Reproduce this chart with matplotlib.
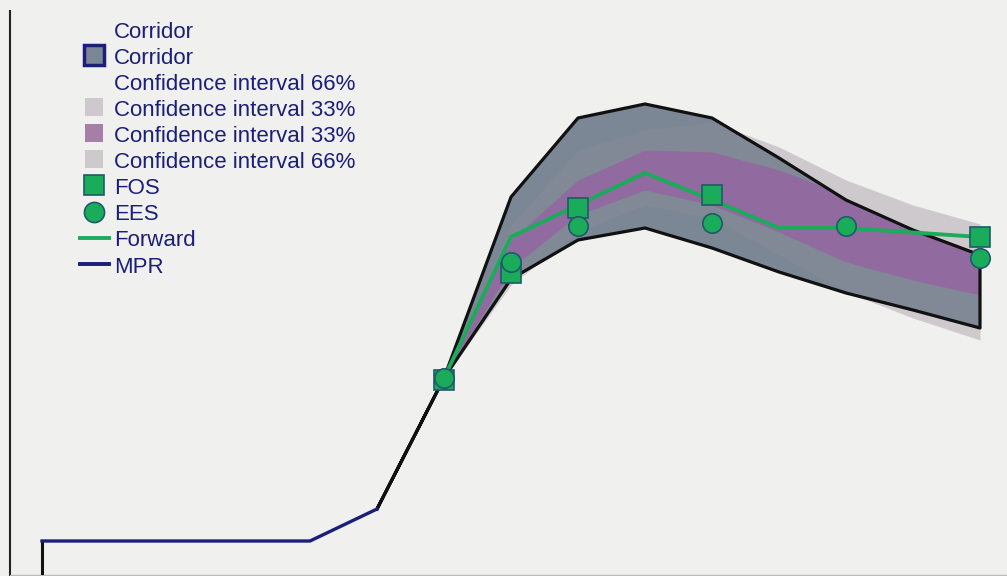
import numpy as np
import matplotlib
matplotlib.use('Agg')
import matplotlib.pyplot as plt
from matplotlib.patches import Polygon
from matplotlib.lines import Line2D

plt.rcParams['font.family'] = ['Liberation Sans', 'DejaVu Sans']

# ---- data (x = step index, y = height) ----
mpr_x = [0, 0, 4, 5]
mpr_y = [0, 34, 34, 66]

corr_x = [5, 6, 7, 8, 9, 10, 11, 12, 13, 14]
corr_upper = [66, 197, 378, 457, 471, 457, 417, 375, 345, 320]
corr_lower = [66, 197, 296, 335, 347, 327, 303, 282, 265, 247]

ci_x = [6, 7, 8, 9, 10, 11, 12, 13, 14]
ci66_upper = [197, 350, 425, 445, 453, 428, 395, 370, 351]
ci66_lower = [197, 290, 343, 370, 357, 320, 283, 257, 235]
ci33_upper = [197, 335, 395, 425, 423, 405, 380, 350, 322]
ci33_lower = [197, 307, 360, 385, 370, 343, 313, 295, 280]

fwd_x = [6, 7, 8, 9, 10, 11, 12, 14]
fwd_y = [197, 338, 370, 402, 375, 347, 347, 338]

fos_x = [6, 7, 8, 10, 14]
fos_y = [195, 302, 367, 380, 338]

ees_x = [6, 7, 8, 10, 12, 14]
ees_y = [197, 313, 349, 352, 349, 317]

labels = ['Corridor', 'Corridor', 'Confidence interval 66%', 'Confidence interval 33%',
          'Confidence interval 33%', 'Confidence interval 66%', 'FOS', 'EES', 'Forward', 'MPR']

# ---- colours ----
bg = '#f0f0ef'
navy = '#1b1f78'
slate = '#7b8794'
purple = '#a052a8'
lightgray = '#cdc9cd'
green = '#1aac5a'
green_edge = '#1f5a6a'

fig = plt.figure(figsize=(10.07, 5.76), dpi=100)
fig.patch.set_facecolor(bg)
ax = fig.add_axes([10 / 1007, 1 / 576, 997 / 1007, 564 / 576])
ax.set_facecolor(bg)

poly_x = corr_x + corr_x[::-1]
poly_y = corr_upper + corr_lower[::-1]
clip = Polygon(np.column_stack([poly_x, poly_y]), closed=True, transform=ax.transData)

# bands
ax.fill_between(ci_x, ci66_lower, ci66_upper, color=lightgray, lw=0, zorder=1)
ax.fill_between(corr_x, corr_lower, corr_upper, color=slate, lw=0, zorder=2)
inner66 = ax.fill_between(ci_x, ci66_lower, ci66_upper, color='#8e8a9c', alpha=0.35, lw=0, zorder=3)
inner33 = ax.fill_between(ci_x, ci33_lower, ci33_upper, color=purple, alpha=0.55, lw=0, zorder=4)
inner66.set_clip_path(clip)
inner33.set_clip_path(clip)

# corridor outline
ax.plot(poly_x + [poly_x[0]], poly_y + [poly_y[0]], color='#111111', lw=2.3, zorder=5,
        solid_joinstyle='round')

# MPR
ax.plot(mpr_x[:2], mpr_y[:2], color='#111111', lw=2.2, zorder=5)
ax.plot(mpr_x[1:], mpr_y[1:], color=navy, lw=2.4, zorder=5)

# forward + points
ax.plot(fwd_x, fwd_y, color=green, lw=2.8, zorder=6)
ax.plot(fos_x, fos_y, ls='none', marker='s', ms=14, mfc=green, mec=green_edge, mew=1.2, zorder=7)
ax.plot(ees_x, ees_y, ls='none', marker='o', ms=14, mfc=green, mec=green_edge, mew=1.2, zorder=8)

ax.set_xlim(-32 / 67, 965 / 67)
ax.set_ylim(0, 564)
ax.set_xticks([])
ax.set_yticks([])
for s in ['top', 'right']:
    ax.spines[s].set_visible(False)
ax.spines['left'].set_color('#222222')
ax.spines['left'].set_linewidth(1.5)
ax.spines['bottom'].set_color('#bbbbbb')
ax.spines['bottom'].set_linewidth(1.0)

# legend
def sq(fc, ec='none', ms=13.5, mew=0):
    return Line2D([], [], ls='none', marker='s', ms=ms, mfc=fc, mec=ec, mew=mew)

blank = Line2D([], [], ls='none')
handles = [
    blank,
    sq(slate, navy, 14, 2.5),
    blank,
    sq(lightgray),
    sq('#a67fa8'),
    sq(lightgray),
    sq(green, green_edge, 14.5, 1.2),
    Line2D([], [], ls='none', marker='o', ms=14.5, mfc=green, mec=green_edge, mew=1.2),
    Line2D([], [], color=green, lw=2.8),
    Line2D([], [], color=navy, lw=2.8),
]
leg = ax.legend(handles, labels, loc='upper left', bbox_to_anchor=(0.0702, 0.984),
                frameon=False, fontsize=16, labelcolor=navy, handlelength=1.3,
                handleheight=1.0, handletextpad=0.23, labelspacing=0.16, borderpad=0,
                borderaxespad=0)

fig.savefig('out.png', dpi=100, facecolor=bg)
